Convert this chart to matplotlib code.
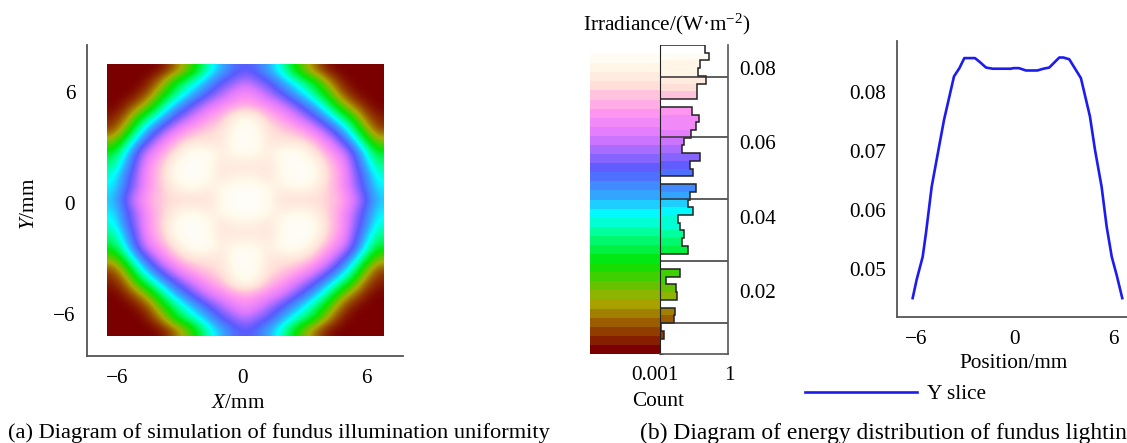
import numpy as np
import matplotlib
matplotlib.use("Agg")
import matplotlib.pyplot as plt
from matplotlib.colors import LinearSegmentedColormap, ListedColormap, BoundaryNorm, Normalize
from matplotlib.cm import ScalarMappable

plt.rcParams['font.family'] = ['Liberation Serif', 'DejaVu Serif']
plt.rcParams['mathtext.fontset'] = 'custom'
plt.rcParams['mathtext.rm'] = 'Liberation Serif'
plt.rcParams['mathtext.it'] = 'Liberation Serif:italic'
plt.rcParams['axes.unicode_minus'] = True

W, H = 1127, 443
FS = 15.3
GRAY = '#555555'

# ---- data ----
# Upper-left quadrant of the irradiance map (fraction of colour range);
# rows run from the top edge to the centre, columns from the left edge to the centre.
map_quadrant = [
    [.00, .00, .00, .00, .01, .08, .18, .30, .42, .50, .57, .60],
    [.00, .00, .00, .03, .13, .28, .37, .45, .52, .60, .64, .69],
    [.00, .00, .02, .09, .24, .35, .45, .52, .60, .66, .73, .77],
    [.00, .03, .10, .22, .36, .48, .56, .64, .71, .76, .80, .82],
    [.03, .09, .26, .38, .49, .58, .66, .73, .80, .84, .92, .96],
    [.06, .20, .38, .51, .61, .70, .78, .83, .86, .89, .95, .98],
    [.19, .34, .49, .61, .72, .81, .87, .89, .89, .89, .97, .98],
    [.32, .45, .60, .72, .80, .88, .95, .98, .97, .92, .95, .97],
    [.38, .50, .63, .78, .85, .94, .98, .98, .96, .90, .90, .90],
    [.43, .55, .66, .79, .86, .95, .98, .98, .96, .89, .92, .93],
    [.46, .57, .67, .79, .85, .91, .95, .95, .92, .95, .98, .98],
    [.49, .61, .73, .82, .86, .87, .87, .87, .88, .95, .98, .98],
]

# Histogram counts (log axis), top bin to bottom bin; 0.001 means an empty bin
hist_counts = [
    0.092, 0.143, 0.056, 0.047, 0.102, 0.043, 0.043, 0.001, 0.027, 0.051,
    0.037, 0.024, 0.011, 0.0095, 0.056, 0.022, 0.029, 0.001, 0.037, 0.022,
    0.017, 0.029, 0.0063, 0.008, 0.012, 0.0095, 0.017, 0.001, 0.001, 0.008,
    0.0018, 0.0053, 0.0059, 0.001, 0.0048, 0.0041, 0.00107, 0.00155, 0.001, 0.001,
]
hist_grid_values = [0.0777, 0.0614, 0.0448, 0.0281, 0.0114]
irradiance_ticks = [0.02, 0.04, 0.06, 0.08]

slice_x = [-6.24, -6.0, -5.63, -5.43, -5.08, -4.67, -4.33, -3.72, -3.39, -3.09, -2.44,
           -2.13, -1.77, -1.36, -0.26, -0.1, 0.24, 0.67, 1.36, 1.73, 2.09, 2.7, 2.95,
           3.31, 4.02, 4.57, 4.88, 5.28, 5.59, 5.9, 6.2, 6.54]
slice_y = [.0451, .0482, .0521, .0561, .064, .0702, .0753, .0827, .0841, .0858, .0858,
           .0851, .0842, .084, .084, .0841, .0841, .0837, .0837, .084, .0842, .0859, .0859,
           .0856, .0824, .0759, .0702, .064, .0572, .0521, .049, .0451]

map_ticks = [-6, 0, 6]
slice_x_ticks = [-6, 0, 6]
slice_y_ticks = [0.05, 0.06, 0.07, 0.08]

# Colour scale anchors: (fraction, colour), bottom to top
cmap_anchors = [
    (0.00, '#7a0000'), (0.07, '#964600'), (0.16, '#aaaa00'), (0.29, '#00e600'),
    (0.39, '#00ff96'), (0.45, '#00ffff'), (0.51, '#32aaff'), (0.60, '#5a5aff'),
    (0.71, '#dc78ff'), (0.79, '#ff96f0'), (0.85, '#ffc4dc'), (0.88, '#ffe0d8'),
    (0.95, '#fffaeb'), (1.00, '#ffffff'),
]
N_BANDS = 34

base = LinearSegmentedColormap.from_list('zemax', cmap_anchors, N=256)
band_base = LinearSegmentedColormap.from_list('zemax_b', cmap_anchors, N=N_BANDS)
cmap = ListedColormap([band_base(i) for i in range(N_BANDS)])


def ax_px(l, t, r, b):
    return fig.add_axes([l / W, 1 - b / H, (r - l) / W, (b - t) / H])


def txt(x, y, s, **kw):
    kw.setdefault('ha', 'center')
    kw.setdefault('va', 'center')
    kw.setdefault('fontsize', FS)
    return fig.text(x / W, 1 - y / H, s, **kw)


fig = plt.figure(figsize=(W / 100, H / 100), dpi=100)

# ---- (a) heat map ----
ax = ax_px(87, 45, 403, 356)
q = np.array(map_quadrant)
upper = np.hstack([q, q[:, -2::-1]])
full = np.vstack([upper, upper[-2::-1]])
ax.imshow(full, cmap=base, norm=Normalize(0, 1), interpolation='bicubic', aspect='auto',
          extent=[(107 - 242) / 20.8, (383 - 242) / 20.8, (203 - 336) / 18.5, (203 - 64) / 18.5])
ax.set_xlim((87 - 242) / 20.8, (403 - 242) / 20.8)
ax.set_ylim((203 - 356) / 18.5, (203 - 45) / 18.5)
ax.set_xticks(map_ticks)
ax.set_yticks(map_ticks)
ax.tick_params(axis='x', length=0, labelsize=FS, pad=9.5)
ax.tick_params(axis='y', length=0, labelsize=FS, pad=8.5)
for s in ('top', 'right'):
    ax.spines[s].set_visible(False)
for s in ('left', 'bottom'):
    ax.spines[s].set_color(GRAY)
    ax.spines[s].set_linewidth(1.3)
txt(238, 403, r'$\mathit{X}$/mm')
txt(29, 204, r'$\mathit{Y}$/mm', rotation=90)

# ---- (b) colour bar and histogram ----
y_lo, y_hi = 0.00306, 0.0862
edges = np.linspace(y_lo, y_hi, N_BANDS + 1)
norm = BoundaryNorm(edges, N_BANDS)

ax_cb = ax_px(590, 45, 660, 354)
cb = fig.colorbar(ScalarMappable(norm=norm, cmap=cmap), cax=ax_cb, spacing='proportional')
cb.set_ticks([])
cb.outline.set_visible(False)

ax_h = ax_px(660, 45, 728, 354)
counts = np.array(hist_counts)[::-1]
bin_edges = np.linspace(y_lo, y_hi, len(counts) + 1)
centers = (bin_edges[:-1] + bin_edges[1:]) / 2
ax_h.set_xscale('log')
ax_h.barh(centers, counts - 0.001, left=0.001, height=np.diff(bin_edges),
          color=cmap(norm(centers)), linewidth=0)
ax_h.stairs(counts, bin_edges, orientation='horizontal', baseline=0.001,
            color='#222222', linewidth=1.1)
ax_h.hlines(hist_grid_values, 0.001, 1, color='#333333', linewidth=1.1)
ax_h.set_xlim(0.001, 1)
ax_h.set_ylim(y_lo, y_hi)
ax_h.yaxis.tick_right()
ax_h.set_yticks(irradiance_ticks)
ax_h.set_yticklabels(['0.02', '0.04', '0.06', '0.08'])
ax_h.set_xticks([])
ax_h.minorticks_off()
ax_h.tick_params(axis='y', length=0, labelsize=FS, pad=8)
ax_h.spines['top'].set_visible(False)
ax_h.spines['left'].set_color('#222222')
for s in ('right', 'bottom'):
    ax_h.spines[s].set_color(GRAY)
    ax_h.spines[s].set_linewidth(1.2)
txt(667, 24, 'Irradiance/(W·m$^{-2}$)')
txt(655, 375, '0.001')
txt(729, 375, '1')
txt(658, 401, 'Count')

# ---- (b) Y slice ----
ax_s = ax_px(897, 41, 1127, 317)
ax_s.plot(slice_x, slice_y, color='#1c1cf0', linewidth=1.9, label='Y slice')
ax_s.set_xlim((897 - 1015) / 16.4, (1127 - 1015) / 16.4)
ax_s.set_ylim(0.0419, 0.0887)
ax_s.set_xticks(slice_x_ticks)
ax_s.set_yticks(slice_y_ticks)
ax_s.tick_params(axis='x', length=0, labelsize=FS, pad=9.5)
ax_s.tick_params(axis='y', length=0, labelsize=FS, pad=8)
for s in ('top', 'right'):
    ax_s.spines[s].set_visible(False)
for s in ('left', 'bottom'):
    ax_s.spines[s].set_color(GRAY)
    ax_s.spines[s].set_linewidth(1.3)
txt(1014, 364, 'Position/mm')
fig.legend(*ax_s.get_legend_handles_labels(), loc='center left',
           bbox_to_anchor=(805 / W, 1 - 394 / H), frameon=False, fontsize=FS,
           handlelength=5.27, handletextpad=0.47, borderaxespad=0, borderpad=0)

# ---- captions ----
txt(8, 433, '(a) Diagram of simulation of fundus illumination uniformity', ha='left', fontsize=16.1)
txt(640, 433, '(b) Diagram of energy distribution of fundus lightin', ha='left', fontsize=16.9)

fig.savefig('out.png', dpi=100)
